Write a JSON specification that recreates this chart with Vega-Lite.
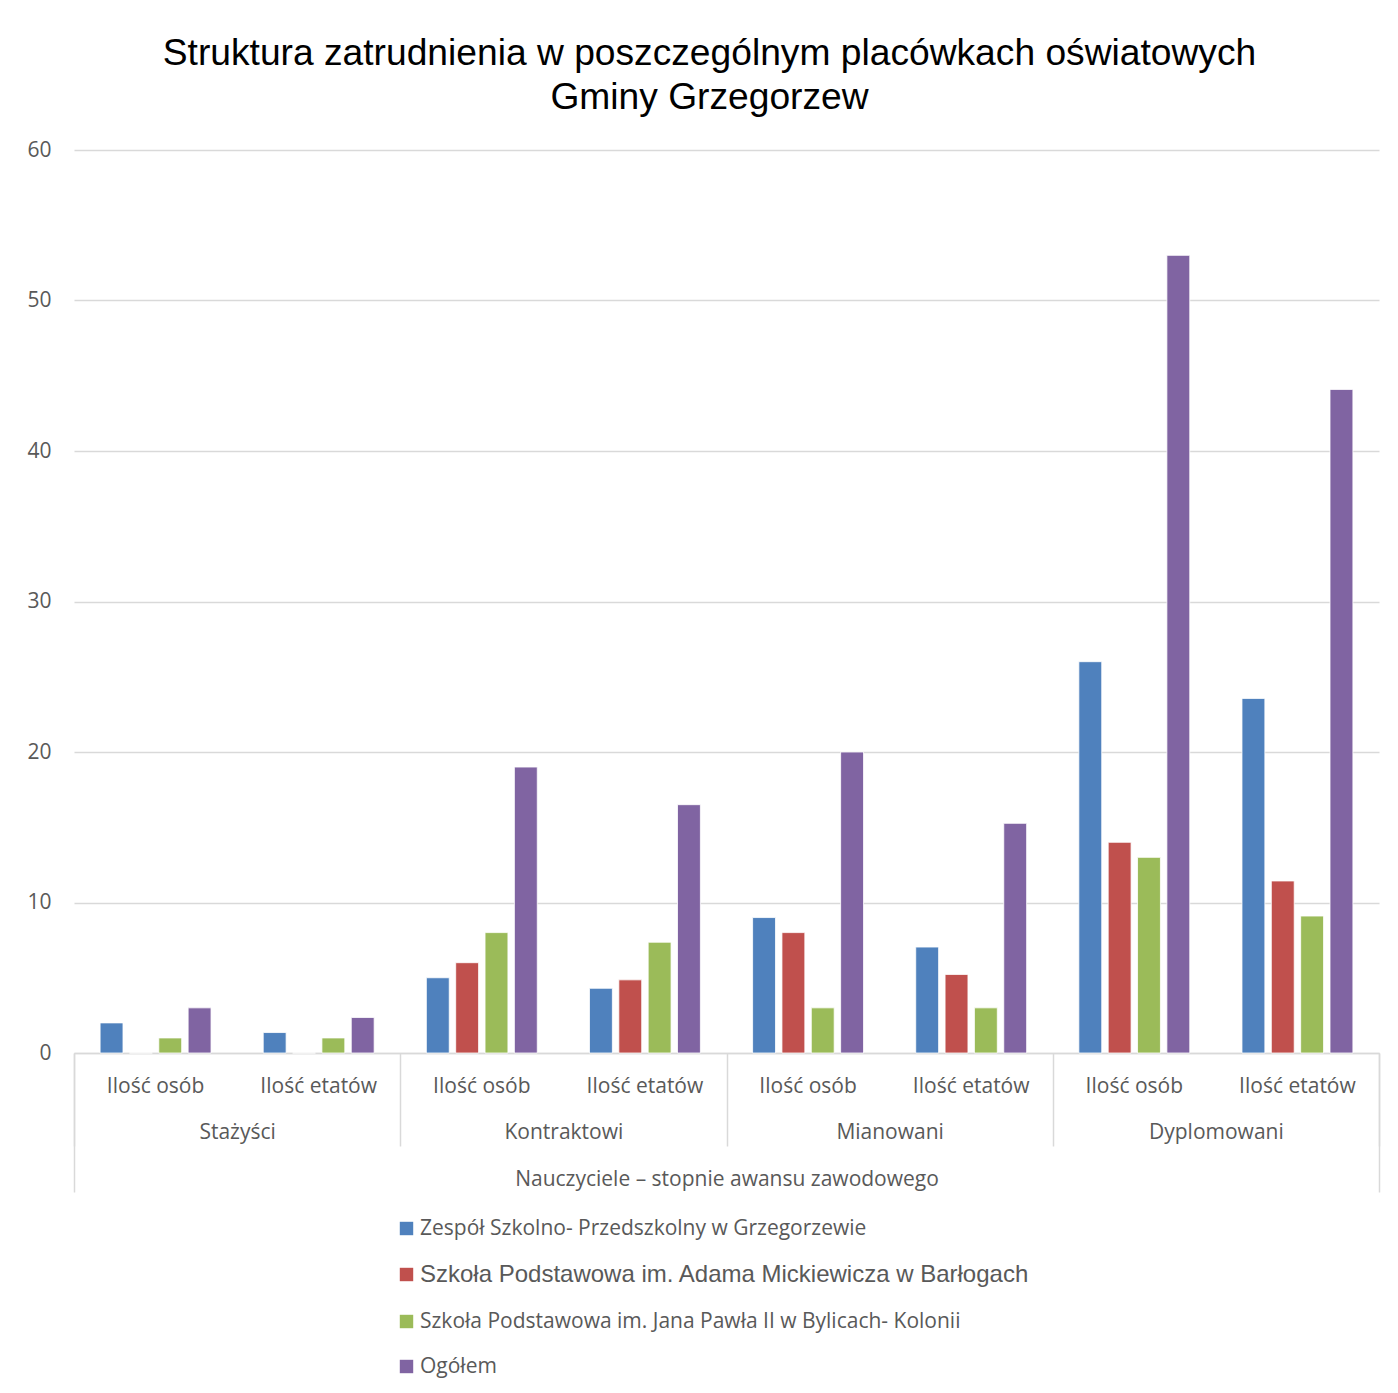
{
  "$schema": "https://vega.github.io/schema/vega-lite/v6.json",
  "autosize": {"type": "none"},
  "padding": {"left": 74, "top": 150, "right": 19, "bottom": 340},
  "width": 1305,
  "height": 903,
  "background": "white",
  "title": {
    "text": ["Struktura zatrudnienia w poszczególnym placówkach oświatowych", "Gminy Grzegorzew"],
    "font": "Liberation Sans",
    "fontSize": 37.2,
    "fontWeight": "normal",
    "color": "#000000",
    "lineHeight": 44,
    "anchor": "middle",
    "dx": -17,
    "offset": 22
  },
  "datasets": {
    "slupki": [
      {"grupa": "Stażyści", "rodzaj": "Ilość osób", "klucz": "Stażyści|Ilość osób", "szkola": "Zespół Szkolno- Przedszkolny w Grzegorzewie", "wartosc": 2},
      {"grupa": "Stażyści", "rodzaj": "Ilość osób", "klucz": "Stażyści|Ilość osób", "szkola": "Szkoła Podstawowa im. Adama Mickiewicza w Barłogach", "wartosc": 0},
      {"grupa": "Stażyści", "rodzaj": "Ilość osób", "klucz": "Stażyści|Ilość osób", "szkola": "Szkoła Podstawowa im. Jana Pawła II w Bylicach- Kolonii", "wartosc": 1},
      {"grupa": "Stażyści", "rodzaj": "Ilość osób", "klucz": "Stażyści|Ilość osób", "szkola": "Ogółem", "wartosc": 3},
      {"grupa": "Stażyści", "rodzaj": "Ilość etatów", "klucz": "Stażyści|Ilość etatów", "szkola": "Zespół Szkolno- Przedszkolny w Grzegorzewie", "wartosc": 1.36},
      {"grupa": "Stażyści", "rodzaj": "Ilość etatów", "klucz": "Stażyści|Ilość etatów", "szkola": "Szkoła Podstawowa im. Adama Mickiewicza w Barłogach", "wartosc": 0},
      {"grupa": "Stażyści", "rodzaj": "Ilość etatów", "klucz": "Stażyści|Ilość etatów", "szkola": "Szkoła Podstawowa im. Jana Pawła II w Bylicach- Kolonii", "wartosc": 1},
      {"grupa": "Stażyści", "rodzaj": "Ilość etatów", "klucz": "Stażyści|Ilość etatów", "szkola": "Ogółem", "wartosc": 2.36},
      {"grupa": "Kontraktowi", "rodzaj": "Ilość osób", "klucz": "Kontraktowi|Ilość osób", "szkola": "Zespół Szkolno- Przedszkolny w Grzegorzewie", "wartosc": 5},
      {"grupa": "Kontraktowi", "rodzaj": "Ilość osób", "klucz": "Kontraktowi|Ilość osób", "szkola": "Szkoła Podstawowa im. Adama Mickiewicza w Barłogach", "wartosc": 6},
      {"grupa": "Kontraktowi", "rodzaj": "Ilość osób", "klucz": "Kontraktowi|Ilość osób", "szkola": "Szkoła Podstawowa im. Jana Pawła II w Bylicach- Kolonii", "wartosc": 8},
      {"grupa": "Kontraktowi", "rodzaj": "Ilość osób", "klucz": "Kontraktowi|Ilość osób", "szkola": "Ogółem", "wartosc": 19},
      {"grupa": "Kontraktowi", "rodzaj": "Ilość etatów", "klucz": "Kontraktowi|Ilość etatów", "szkola": "Zespół Szkolno- Przedszkolny w Grzegorzewie", "wartosc": 4.3},
      {"grupa": "Kontraktowi", "rodzaj": "Ilość etatów", "klucz": "Kontraktowi|Ilość etatów", "szkola": "Szkoła Podstawowa im. Adama Mickiewicza w Barłogach", "wartosc": 4.86},
      {"grupa": "Kontraktowi", "rodzaj": "Ilość etatów", "klucz": "Kontraktowi|Ilość etatów", "szkola": "Szkoła Podstawowa im. Jana Pawła II w Bylicach- Kolonii", "wartosc": 7.36},
      {"grupa": "Kontraktowi", "rodzaj": "Ilość etatów", "klucz": "Kontraktowi|Ilość etatów", "szkola": "Ogółem", "wartosc": 16.5},
      {"grupa": "Mianowani", "rodzaj": "Ilość osób", "klucz": "Mianowani|Ilość osób", "szkola": "Zespół Szkolno- Przedszkolny w Grzegorzewie", "wartosc": 9},
      {"grupa": "Mianowani", "rodzaj": "Ilość osób", "klucz": "Mianowani|Ilość osób", "szkola": "Szkoła Podstawowa im. Adama Mickiewicza w Barłogach", "wartosc": 8},
      {"grupa": "Mianowani", "rodzaj": "Ilość osób", "klucz": "Mianowani|Ilość osób", "szkola": "Szkoła Podstawowa im. Jana Pawła II w Bylicach- Kolonii", "wartosc": 3},
      {"grupa": "Mianowani", "rodzaj": "Ilość osób", "klucz": "Mianowani|Ilość osób", "szkola": "Ogółem", "wartosc": 20},
      {"grupa": "Mianowani", "rodzaj": "Ilość etatów", "klucz": "Mianowani|Ilość etatów", "szkola": "Zespół Szkolno- Przedszkolny w Grzegorzewie", "wartosc": 7.04},
      {"grupa": "Mianowani", "rodzaj": "Ilość etatów", "klucz": "Mianowani|Ilość etatów", "szkola": "Szkoła Podstawowa im. Adama Mickiewicza w Barłogach", "wartosc": 5.22},
      {"grupa": "Mianowani", "rodzaj": "Ilość etatów", "klucz": "Mianowani|Ilość etatów", "szkola": "Szkoła Podstawowa im. Jana Pawła II w Bylicach- Kolonii", "wartosc": 3},
      {"grupa": "Mianowani", "rodzaj": "Ilość etatów", "klucz": "Mianowani|Ilość etatów", "szkola": "Ogółem", "wartosc": 15.26},
      {"grupa": "Dyplomowani", "rodzaj": "Ilość osób", "klucz": "Dyplomowani|Ilość osób", "szkola": "Zespół Szkolno- Przedszkolny w Grzegorzewie", "wartosc": 26},
      {"grupa": "Dyplomowani", "rodzaj": "Ilość osób", "klucz": "Dyplomowani|Ilość osób", "szkola": "Szkoła Podstawowa im. Adama Mickiewicza w Barłogach", "wartosc": 14},
      {"grupa": "Dyplomowani", "rodzaj": "Ilość osób", "klucz": "Dyplomowani|Ilość osób", "szkola": "Szkoła Podstawowa im. Jana Pawła II w Bylicach- Kolonii", "wartosc": 13},
      {"grupa": "Dyplomowani", "rodzaj": "Ilość osób", "klucz": "Dyplomowani|Ilość osób", "szkola": "Ogółem", "wartosc": 53},
      {"grupa": "Dyplomowani", "rodzaj": "Ilość etatów", "klucz": "Dyplomowani|Ilość etatów", "szkola": "Zespół Szkolno- Przedszkolny w Grzegorzewie", "wartosc": 23.56},
      {"grupa": "Dyplomowani", "rodzaj": "Ilość etatów", "klucz": "Dyplomowani|Ilość etatów", "szkola": "Szkoła Podstawowa im. Adama Mickiewicza w Barłogach", "wartosc": 11.43},
      {"grupa": "Dyplomowani", "rodzaj": "Ilość etatów", "klucz": "Dyplomowani|Ilość etatów", "szkola": "Szkoła Podstawowa im. Jana Pawła II w Bylicach- Kolonii", "wartosc": 9.1},
      {"grupa": "Dyplomowani", "rodzaj": "Ilość etatów", "klucz": "Dyplomowani|Ilość etatów", "szkola": "Ogółem", "wartosc": 44.09}
    ],
    "grupy": [
      {"grupa": "Stażyści"},
      {"grupa": "Kontraktowi"},
      {"grupa": "Mianowani"},
      {"grupa": "Dyplomowani"}
    ],
    "poziom": [
      {"poziom": "Nauczyciele – stopnie awansu zawodowego"}
    ]
  },
  "layer": [
    {
      "data": {"name": "slupki"},
      "mark": {"type": "bar", "stroke": "white", "strokeWidth": 0.8},
      "encoding": {
        "x": {
          "field": "klucz",
          "type": "nominal",
          "sort": null,
          "scale": {"paddingInner": 0.32, "paddingOuter": 0.16},
          "axis": {
            "orient": "bottom",
            "title": null,
            "labelExpr": "split(datum.value, '|')[1]",
            "labelAngle": 0,
            "ticks": false,
            "labelPadding": 22,
            "labelFont": "Open Sans",
            "labelFontSize": 21,
            "labelColor": "#595959",
            "domainColor": "#d9d9d9",
            "domainWidth": 1.5
          }
        },
        "xOffset": {
          "field": "szkola",
          "type": "nominal",
          "sort": null,
          "scale": {"paddingInner": 0.22, "paddingOuter": 0}
        },
        "y": {
          "field": "wartosc",
          "type": "quantitative",
          "scale": {"domain": [0, 60]},
          "axis": {
            "title": null,
            "values": [0, 10, 20, 30, 40, 50, 60],
            "domain": false,
            "ticks": false,
            "labelPadding": 23,
            "labelFont": "Open Sans",
            "labelFontSize": 21,
            "labelColor": "#595959",
            "gridColor": "#d9d9d9",
            "gridWidth": 1.5
          }
        },
        "color": {
          "field": "szkola",
          "type": "nominal",
          "sort": null,
          "scale": {
            "domain": ["Zespół Szkolno- Przedszkolny w Grzegorzewie", "Szkoła Podstawowa im. Adama Mickiewicza w Barłogach", "Szkoła Podstawowa im. Jana Pawła II w Bylicach- Kolonii", "Ogółem"],
            "range": ["#4F81BD", "#C0504D", "#9BBB59", "#8064A2"]
          },
          "legend": {
            "orient": "none",
            "legendX": 322,
            "legendY": 1068,
            "direction": "vertical",
            "title": null,
            "symbolType": "square",
            "symbolSize": 180,
            "symbolStrokeWidth": 0,
            "labelFont": {"expr": "datum.label == 'Szkoła Podstawowa im. Adama Mickiewicza w Barłogach' ? 'Liberation Sans' : 'Open Sans'"},
            "labelFontSize": {"expr": "datum.label == 'Szkoła Podstawowa im. Adama Mickiewicza w Barłogach' ? 24 : 21"},
            "labelColor": "#595959",
            "labelOffset": 3,
            "rowPadding": 23,
            "labelLimit": 800
          }
        }
      }
    },
    {
      "data": {"name": "grupy"},
      "mark": {"type": "rule", "strokeOpacity": 0},
      "encoding": {
        "x": {
          "field": "grupa",
          "type": "nominal",
          "sort": null,
          "scale": {"paddingInner": 0, "paddingOuter": 0},
          "axis": {
            "orient": "bottom",
            "title": null,
            "domain": false,
            "labelAngle": 0,
            "tickBand": "extent",
            "tickSize": 93,
            "tickColor": "#d9d9d9",
            "tickWidth": 1.5,
            "labelPadding": -25,
            "labelFont": "Open Sans",
            "labelFontSize": 21,
            "labelColor": "#595959",
            "grid": false
          }
        }
      }
    },
    {
      "data": {"name": "poziom"},
      "mark": {"type": "rule", "strokeOpacity": 0},
      "encoding": {
        "x": {
          "field": "poziom",
          "type": "nominal",
          "scale": {"paddingInner": 0, "paddingOuter": 0},
          "axis": {
            "orient": "bottom",
            "title": null,
            "domain": false,
            "labelAngle": 0,
            "tickBand": "extent",
            "tickSize": 139,
            "tickColor": "#d9d9d9",
            "tickWidth": 1.5,
            "labelPadding": -24,
            "labelFont": "Open Sans",
            "labelFontSize": 21,
            "labelColor": "#595959",
            "labelLimit": 1000,
            "grid": false
          }
        }
      }
    }
  ],
  "resolve": {"scale": {"x": "independent"}, "axis": {"x": "independent"}},
  "config": {"view": {"stroke": null}}
}
